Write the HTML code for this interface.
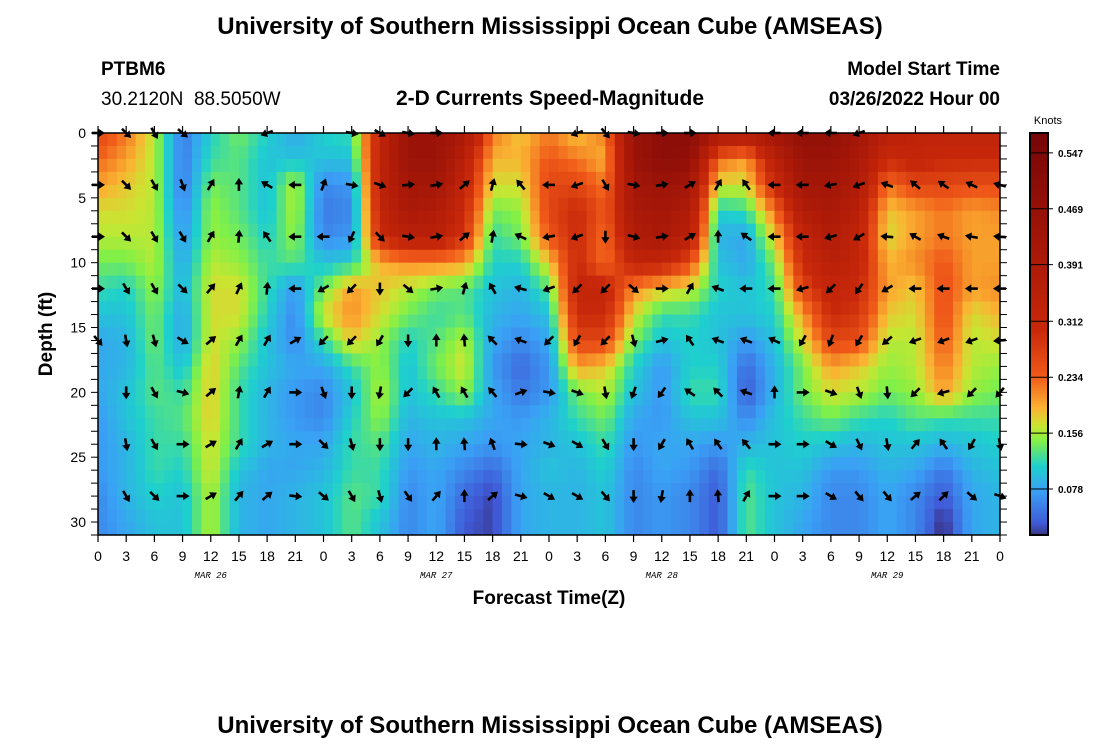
<!DOCTYPE html>
<html><head><meta charset="utf-8"><style>
body{margin:0;background:#fff;}
svg{display:block;font-family:"Liberation Sans",sans-serif;}
</style></head><body>
<svg id="chart" width="1100" height="750" viewBox="0 0 1100 750" xmlns="http://www.w3.org/2000/svg">
<rect width="1100" height="750" fill="#fff"/>
<text x="550" y="34" text-anchor="middle" font-size="24" font-weight="bold">University of Southern Mississippi Ocean Cube (AMSEAS)</text>
<text x="101" y="75" font-size="19" font-weight="bold">PTBM6</text>
<text x="101" y="105" font-size="19">30.2120N&#160;&#160;88.5050W</text>
<text x="550" y="105" text-anchor="middle" font-size="21" font-weight="bold">2-D Currents Speed-Magnitude</text>
<text x="1000" y="75" text-anchor="end" font-size="19" font-weight="bold">Model Start Time</text>
<text x="1000" y="105" text-anchor="end" font-size="19" font-weight="bold">03/26/2022 Hour 00</text>
<g id="heat"></g>
<g id="arrows"></g>
<rect x="98" y="133" width="902" height="402" fill="none" stroke="#000" stroke-width="1.5"/>
<g id="axes"></g>
<text transform="translate(52,334) rotate(-90)" text-anchor="middle" font-size="19" font-weight="bold">Depth (ft)</text>
<text x="549" y="604" text-anchor="middle" font-size="19" font-weight="bold">Forecast Time(Z)</text>
<g id="cbar"></g>
<text x="1048" y="124" text-anchor="middle" font-size="11">Knots</text>
<text x="550" y="733" text-anchor="middle" font-size="24" font-weight="bold">University of Southern Mississippi Ocean Cube (AMSEAS)</text>
</svg>
<script>
const hours = [0,3,6,9,12,15,18,21,24,27,30,33,36,39,42,45,48,51,54,57,60,63,66,69,72,75,78,81,84,87,90,93,96];
const depths = [0,2,4,6,8,10,12,14,16,18,20,22,24,26,28,30];
// speed (knots) per hour column, listed by depth
const speed = [
[.26,.23,.20,.17,.16,.14,.12,.10,.08,.08,.08,.07,.07,.07,.06,.06],
[.22,.20,.18,.17,.16,.14,.11,.10,.09,.09,.10,.10,.09,.09,.09,.08],
[.16,.16,.16,.16,.16,.16,.15,.14,.14,.13,.13,.12,.12,.12,.11,.10],
[.05,.05,.05,.06,.07,.08,.09,.08,.08,.10,.12,.13,.12,.11,.10,.10],
[.11,.12,.14,.15,.15,.16,.17,.17,.17,.18,.18,.18,.17,.17,.16,.16],
[.14,.13,.13,.13,.14,.15,.17,.17,.15,.13,.12,.12,.12,.10,.09,.09],
[.11,.10,.10,.10,.11,.12,.12,.11,.10,.10,.09,.09,.09,.08,.08,.08],
[.08,.10,.16,.16,.15,.13,.07,.06,.06,.08,.07,.07,.08,.08,.09,.09],
[.11,.10,.06,.05,.06,.10,.14,.17,.12,.08,.06,.06,.08,.09,.10,.10],
[.12,.10,.07,.06,.07,.11,.20,.21,.18,.12,.10,.11,.12,.12,.13,.13],
[.32,.33,.33,.32,.30,.19,.18,.17,.15,.15,.16,.15,.13,.12,.12,.10],
[.45,.45,.42,.40,.35,.21,.16,.14,.11,.10,.10,.09,.08,.07,.06,.06],
[.45,.45,.42,.38,.35,.21,.14,.12,.13,.14,.12,.10,.09,.08,.08,.08],
[.40,.35,.32,.30,.28,.20,.13,.13,.16,.17,.15,.10,.08,.06,.04,.03],
[.22,.19,.17,.14,.12,.11,.10,.09,.08,.07,.08,.08,.07,.04,.02,.02],
[.18,.19,.17,.15,.14,.11,.09,.08,.06,.04,.05,.07,.08,.08,.08,.08],
[.22,.24,.26,.26,.24,.18,.13,.10,.08,.07,.07,.09,.09,.10,.09,.09],
[.18,.22,.26,.30,.30,.30,.32,.30,.26,.20,.14,.12,.10,.09,.09,.09],
[.22,.19,.22,.24,.22,.22,.32,.30,.26,.18,.16,.14,.12,.11,.10,.10],
[.45,.45,.42,.40,.38,.32,.21,.17,.14,.11,.10,.08,.07,.06,.06,.06],
[.50,.50,.45,.42,.40,.32,.18,.12,.10,.07,.07,.07,.08,.08,.07,.07],
[.50,.48,.42,.38,.35,.25,.17,.12,.11,.11,.12,.10,.08,.07,.06,.06],
[.40,.23,.17,.11,.09,.10,.11,.10,.10,.11,.12,.10,.07,.04,.03,.03],
[.38,.20,.17,.12,.08,.08,.10,.10,.07,.04,.03,.06,.09,.12,.13,.13],
[.42,.35,.30,.22,.18,.14,.12,.11,.10,.09,.09,.10,.10,.10,.10,.10],
[.48,.45,.42,.38,.32,.30,.26,.20,.17,.14,.14,.12,.11,.10,.09,.08],
[.48,.45,.42,.40,.38,.35,.32,.30,.26,.20,.17,.14,.10,.07,.06,.06],
[.42,.40,.38,.35,.32,.32,.30,.28,.25,.18,.16,.12,.09,.07,.06,.06],
[.35,.30,.22,.18,.17,.19,.20,.18,.16,.15,.14,.11,.10,.09,.08,.08],
[.33,.32,.26,.20,.20,.21,.18,.17,.16,.16,.15,.13,.10,.08,.06,.06],
[.33,.30,.26,.22,.22,.24,.25,.25,.24,.22,.20,.12,.09,.05,.03,.01],
[.33,.30,.25,.20,.20,.20,.20,.17,.16,.16,.15,.12,.10,.09,.08,.08],
[.33,.30,.25,.21,.20,.20,.21,.19,.17,.15,.14,.12,.11,.10,.09,.09]
];
const arrowDepths = [0,4,8,12,16,20,24,28];
// direction in degrees (0=east, 90=north), per depth row, per hour column; null = no arrow
const dirD0  = [0,315,300,320,null,null,200,null,null,350,330,350,0,null,null,null,null,200,310,350,0,0,null,null,180,180,180,200,null,null,null,null,null];
const dirD4  = [0,315,300,290,60,90,150,180,70,350,340,5,10,40,75,130,180,200,300,350,10,30,60,125,180,180,190,200,160,140,145,155,165];
const dirD8  = [0,315,300,300,60,85,125,180,180,245,315,350,10,40,80,155,190,200,270,345,10,30,90,145,180,180,195,210,175,150,160,170,175];
const dirD12 = [0,300,300,315,50,65,85,180,210,225,270,320,10,75,120,165,200,225,225,320,0,60,160,180,180,195,225,235,210,180,180,180,180];
const dirD16 = [310,280,285,330,40,60,60,30,225,225,240,270,90,95,135,160,225,240,225,285,15,125,160,160,155,240,250,240,220,200,200,200,185];
const dirD20 = [null,270,300,345,40,80,60,0,290,270,260,225,120,120,130,20,350,340,280,250,235,145,135,160,90,0,340,290,275,225,195,225,230];
const dirD24 = [null,280,300,0,30,60,30,0,315,285,270,270,90,95,110,355,340,330,300,270,240,120,125,130,0,0,330,295,280,50,125,240,280];
const dirD28 = [null,300,315,0,30,50,40,355,320,300,285,305,50,90,40,345,330,330,310,270,260,90,95,60,0,0,330,310,310,40,45,320,340];
const directions = [dirD0,dirD4,dirD8,dirD12,dirD16,dirD20,dirD24,dirD28];
const xTickLabels = ["0","3","6","9","12","15","18","21","0","3","6","9","12","15","18","21","0","3","6","9","12","15","18","21","0","3","6","9","12","15","18","21","0"];
const yTickLabels = ["0","5","10","15","20","25","30"];
const dayLabels = ["MAR 26","MAR 27","MAR 28","MAR 29"];
const cbarTicks = ["0.078","0.156","0.234","0.312","0.391","0.469","0.547"];

const NS="http://www.w3.org/2000/svg";
const X0=98,X1=1000,Y0=133,Y1=535,HMAX=96,DMAX=31;
const xs=h=>X0+(X1-X0)*h/HMAX;
const ys=d=>Y0+(Y1-Y0)*d/DMAX;
const stops=[[0,[48,18,59]],[0.03,[64,90,215]],[0.075,[58,160,245]],[0.11,[30,208,205]],[0.145,[130,240,70]],[0.165,[200,230,50]],[0.19,[250,180,50]],[0.235,[240,90,25]],[0.3,[200,40,10]],[0.4,[170,25,8]],[0.55,[125,8,8]],[0.6,[110,5,5]]];
function color(v){
  if(v<=stops[0][0])return `rgb(${stops[0][1]})`;
  for(let i=1;i<stops.length;i++){if(v<=stops[i][0]){const a=stops[i-1],b=stops[i],t=(v-a[0])/(b[0]-a[0]);
    return `rgb(${a[1].map((c,k)=>Math.round(c+(b[1][k]-c)*t)).join(',')})`;}}
  return `rgb(${stops[stops.length-1][1]})`;
}
function el(tag,attrs,parent){const e=document.createElementNS(NS,tag);for(const k in attrs)e.setAttribute(k,attrs[k]);parent.appendChild(e);return e;}
function idx(arr,v){if(v<=arr[0])return[0,0,0];if(v>=arr[arr.length-1]){const n=arr.length-1;return[n,n,0];}
  for(let i=0;i<arr.length-1;i++){if(v<=arr[i+1])return[i,i+1,(v-arr[i])/(arr[i+1]-arr[i])];}}
function sample(h,d){const [a,b,t]=idx(hours,h),[c,e,u]=idx(depths,d);
  const v0=speed[a][c]*(1-u)+speed[a][e]*u, v1=speed[b][c]*(1-u)+speed[b][e]*u; return v0*(1-t)+v1*t;}
const heat=document.getElementById('heat');
for(let h=0;h<HMAX;h++){for(let d=0;d<DMAX;d++){
  const r=el('rect',{x:xs(h).toFixed(2),y:ys(d).toFixed(2),width:(xs(h+1)-xs(h)+0.4).toFixed(2),height:(ys(d+1)-ys(d)+0.4).toFixed(2),fill:color(sample(h+0.5,d+0.5))},heat);
  
  
}}
const arrows=document.getElementById('arrows');
arrowDepths.forEach((d,ri)=>{hours.forEach((h,ci)=>{const a=directions[ri][ci];if(a===null)return;
  const g=el('g',{transform:`translate(${xs(h).toFixed(1)},${ys(d).toFixed(1)}) rotate(${-a})`},arrows);
  
  
  el('line',{x1:-6,y1:0,x2:2,y2:0,stroke:'#000','stroke-width':2.6},g);
  el('path',{d:'M7,0 L0.5,-4.2 L0.5,4.2 Z',fill:'#000'},g);
});});
const axes=document.getElementById('axes');
for(let h=0;h<=HMAX;h+=3){const x=xs(h);
  el('line',{x1:x,y1:Y1,x2:x,y2:Y1+7,stroke:'#000','stroke-width':1.2},axes);
  el('line',{x1:x,y1:Y0,x2:x,y2:Y0-7,stroke:'#000','stroke-width':1.2},axes);}
xTickLabels.forEach((t,i)=>{const tx=el('text',{x:xs(i*3),y:561,'text-anchor':'middle','font-size':14},axes);tx.textContent=t;
  
  });
dayLabels.forEach((t,i)=>{const tx=el('text',{x:xs(12+24*i),y:578,'text-anchor':'middle','font-size':9,'font-style':'italic','font-family':'Liberation Mono, monospace'},axes);tx.textContent=t;
  
  });
for(let d=0;d<=DMAX;d++){const y=ys(d);
  el('line',{x1:X0,y1:y,x2:X0-7,y2:y,stroke:'#000','stroke-width':1},axes);
  el('line',{x1:X1,y1:y,x2:X1+7,y2:y,stroke:'#000','stroke-width':1},axes);}
yTickLabels.forEach((t,i)=>{const tx=el('text',{x:86,y:ys(i*5)+5,'text-anchor':'end','font-size':14},axes);tx.textContent=t;
  
  });
const cb=document.getElementById('cbar');
const CBX=1030,CBW=18,CT=133,CB=535;
const cy=v=>489-(v-0.078)/0.078*55.9;
for(let y=CT;y<CB;y+=2){const v=0.078+(489-(y+1))/55.9*0.078;el('rect',{x:CBX,y:y,width:CBW,height:2.3,fill:color(v)},cb);}
el('rect',{x:CBX,y:CT,width:CBW,height:CB-CT,fill:'none',stroke:'#000','stroke-width':2},cb);
cbarTicks.forEach(t=>{const y=cy(parseFloat(t));
  el('line',{x1:CBX,y1:y,x2:CBX+CBW+5,y2:y,stroke:'#000','stroke-width':1},cb);
  const tx=el('text',{x:CBX+CBW+10,y:y+4,'font-size':10,'font-weight':'bold'},cb);tx.textContent=t;
  
  });
</script>
</body></html>
